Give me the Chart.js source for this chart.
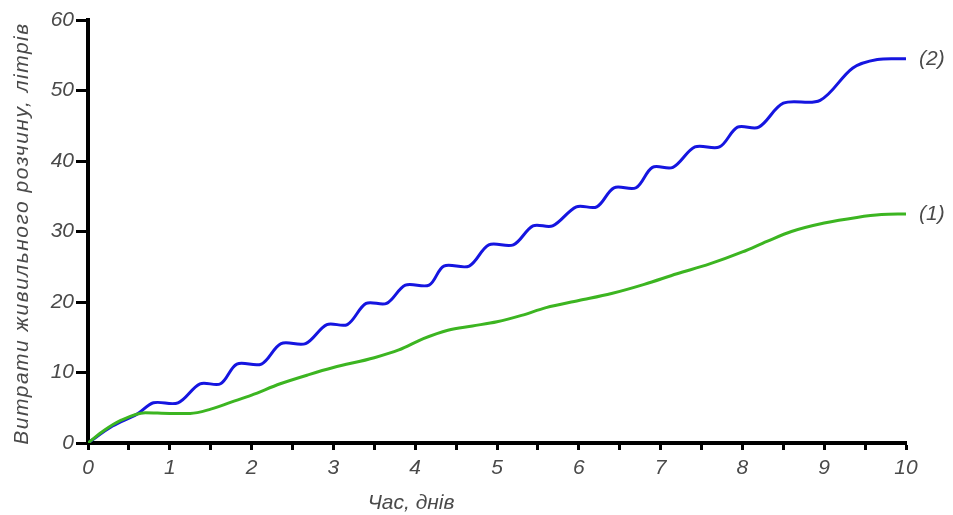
<!DOCTYPE html>
<html>
<head>
<meta charset="utf-8">
<script src="https://cdn.jsdelivr.net/npm/chart.js@4"></script>
<style>
  body { margin: 0; background: #fff; }
  canvas { display: block; }
</style>
</head>
<body>
<canvas id="chart" width="953" height="515"></canvas>
<script>
// series (2) - blue, stepped/wavy
const blueX = [0, 0.3, 0.6, 0.8, 1.1, 1.37, 1.62, 1.82, 2.12, 2.36, 2.66, 2.92, 3.17, 3.4, 3.65, 3.88, 4.17,
  4.35, 4.66, 4.9, 5.2, 5.44, 5.68, 5.97, 6.22, 6.43, 6.7, 6.9, 7.15, 7.42, 7.72, 7.94, 8.2, 8.5, 8.95, 9.35, 9.65, 10];
const blueY = [0, 2.4, 4.1, 5.7, 5.7, 8.4, 8.4, 11.2, 11.2, 14.1, 14.1, 16.8, 16.8, 19.8, 19.8, 22.4, 22.4,
  25.1, 25.1, 28.1, 28.1, 30.8, 30.8, 33.5, 33.5, 36.2, 36.2, 39.1, 39.1, 42.0, 42.0, 44.8, 44.8, 48.2, 48.6, 53.2, 54.4, 54.5];

// series (1) - green, smooth
const greenX = [0, 0.2, 0.4, 0.7, 1.0, 1.25, 1.5, 1.75, 2.0, 2.35, 2.7, 3.0, 3.5, 3.8, 4.1, 4.4, 4.7, 5.0,
  5.3, 5.6, 6.0, 6.4, 6.8, 7.2, 7.6, 8.0, 8.3, 8.6, 9.0, 9.4, 9.7, 10];
const greenY = [0, 1.8, 3.2, 4.3, 4.2, 4.2, 4.8, 5.8, 6.8, 8.4, 9.7, 10.7, 12.1, 13.2, 14.8, 16.0, 16.6, 17.2,
  18.1, 19.2, 20.2, 21.2, 22.5, 24.0, 25.4, 27.1, 28.6, 30.0, 31.2, 32.0, 32.4, 32.5];

const xTicks = [0, 1, 2, 3, 4, 5, 6, 7, 8, 9, 10];
const yTicks = [0, 10, 20, 30, 40, 50, 60];
const seriesLabels = ["(1)", "(2)"];
const xTitle = "Час, днів";
const yTitle = "Витрати живильного розчину, літрів";

const toPoints = (xs, ys) => xs.map((x, i) => ({ x: x, y: ys[i] }));

const textColor = "#4a4a4a";
const fontFamily = "'Liberation Sans', Arial, sans-serif";

// axis titles and end labels
const annotate = {
  id: "annotate",
  afterDraw(chart) {
    const ctx = chart.ctx;
    const area = chart.chartArea;
    ctx.save();
    ctx.fillStyle = textColor;
    ctx.font = "italic 21px " + fontFamily;

    ctx.textAlign = "center";
    ctx.textBaseline = "middle";
    ctx.fillText(xTitle, area.left + (area.right - area.left) * 0.395, 503);

    ctx.save();
    ctx.translate(22, (area.top + area.bottom) / 2 + 2);
    ctx.rotate(-Math.PI / 2);
    ctx.letterSpacing = "1.5px";
    ctx.fillText(yTitle, 0, 0);
    ctx.restore();

    ctx.textAlign = "left";
    chart.data.datasets.forEach((ds, i) => {
      const meta = chart.getDatasetMeta(i);
      const last = meta.data[meta.data.length - 1];
      ctx.fillText(seriesLabels[i], last.x + 13, last.y);
    });
    ctx.restore();
  }
};

new Chart(document.getElementById("chart"), {
  type: "line",
  data: {
    datasets: [
      {
        label: seriesLabels[0],
        data: toPoints(greenX, greenY),
        borderColor: "#3cb521",
        borderWidth: 3,
        pointRadius: 0,
        cubicInterpolationMode: "monotone",
        fill: false,
      },
      {
        label: seriesLabels[1],
        data: toPoints(blueX, blueY),
        borderColor: "#1515e0",
        borderWidth: 3,
        pointRadius: 0,
        tension: 0.33,
        fill: false,
      },
    ],
  },
  options: {
    responsive: false,
    animation: false,
    layout: { padding: { top: 20, right: 47, left: 0, bottom: 0 } },
    plugins: {
      legend: { display: false },
      tooltip: { enabled: false },
    },
    scales: {
      x: {
        type: "linear",
        min: 0,
        max: 10,
        afterFit: (scale) => { scale.height = 72; },
        border: { color: "#000", width: 4 },
        grid: {
          drawOnChartArea: false,
          drawTicks: true,
          tickLength: 7,
          tickWidth: 3,
          tickColor: "#000",
        },
        ticks: {
          stepSize: 0.5,
          autoSkip: false,
          maxRotation: 0,
          padding: 6,
          color: textColor,
          font: { family: fontFamily, size: 21, style: "italic" },
          callback: (v) => (xTicks.includes(v) ? String(v) : ""),
        },
      },
      y: {
        min: 0,
        max: 60,
        afterFit: (scale) => { scale.width = 88; },
        border: { color: "#000", width: 4 },
        grid: {
          drawOnChartArea: false,
          drawTicks: true,
          tickLength: 12,
          tickWidth: 3,
          tickColor: "#000",
        },
        ticks: {
          stepSize: 10,
          padding: 2,
          color: textColor,
          font: { family: fontFamily, size: 21, style: "italic" },
          callback: (v) => (yTicks.includes(v) ? String(v) : ""),
        },
      },
    },
  },
  plugins: [annotate],
});
</script>
</body>
</html>
